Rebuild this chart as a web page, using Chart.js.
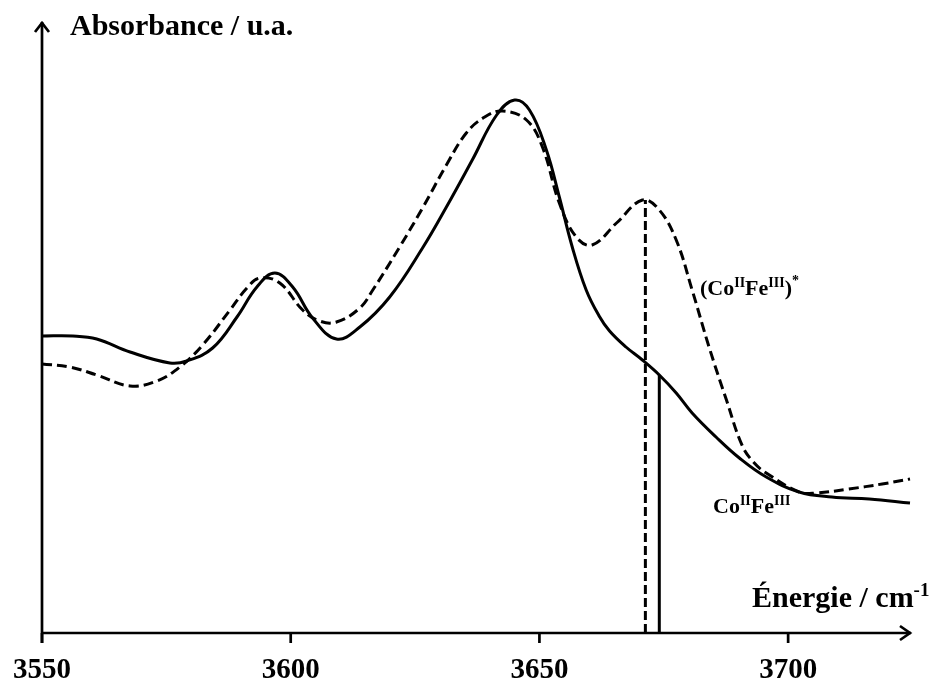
<!DOCTYPE html>
<html><head><meta charset="utf-8">
<script src="https://cdn.jsdelivr.net/npm/chart.js@4"></script>
<style>html,body{margin:0;padding:0;background:#fff}</style>
</head><body>
<canvas id="c" width="933" height="682"></canvas>
<script>
// Energy (cm-1) and absorbance (arbitrary units)
const energySolid = [3550,3556.2,3561.0,3567.7,3575.7,3579.1,3584.3,3589.2,3593.2,3596.8,3600.4,3604.4,3609.2,3613.9,3619.9,3626.5,3631.3,3636.5,3641.4,3645.0,3648.0,3651.4,3654.0,3656.6,3659.4,3662.0,3664.1,3667.4,3670.7,3674.1,3677.5,3680.7,3685.5,3690.2,3695.6,3702.2,3708.8,3716.3,3724.5];
const absSolid    = [2.97,2.97,2.94,2.81,2.70,2.72,2.85,3.16,3.46,3.60,3.46,3.15,2.94,3.06,3.36,3.85,4.26,4.73,5.18,5.33,5.23,4.83,4.36,3.86,3.43,3.17,3.02,2.86,2.73,2.58,2.40,2.20,1.96,1.75,1.56,1.41,1.36,1.34,1.30];
const energyDashed = [3550,3555.6,3561.0,3567.7,3573.1,3577.7,3582.3,3587.8,3591.2,3593.8,3597.8,3602.4,3605.8,3609.2,3613.9,3616.5,3621.9,3626.5,3631.3,3635.3,3639.0,3642.6,3647.4,3650.6,3654.0,3657.4,3660.6,3665.5,3670.7,3674.1,3677.5,3680.7,3684.1,3687.6,3690.8,3693.2,3695.6,3702.2,3705.6,3712.2,3718.9,3724.5];
const absDashed    = [2.69,2.66,2.58,2.47,2.52,2.66,2.88,3.23,3.45,3.55,3.50,3.23,3.12,3.11,3.25,3.43,3.86,4.25,4.68,5.00,5.16,5.22,5.13,4.86,4.30,3.96,3.88,4.10,4.33,4.23,3.93,3.43,2.86,2.33,1.87,1.70,1.60,1.41,1.40,1.44,1.49,1.54];
// Marker lines (peak positions)
const markerDashed = {x: 3671.3, y: 4.33};
const markerSolid  = {x: 3674.1, y: 2.58};
const xTicks = [3550, 3600, 3650, 3700];
const xMin = 3550, xMax = 3724.7, yMin = 0, yMax = 6.11;

const zip = (xs, ys) => xs.map((x, i) => ({x, y: ys[i]}));
const FONT = '"Liberation Serif","Times New Roman",serif';

function drawRuns(ctx, x, y, runs) {
  let cx = x;
  ctx.textAlign = 'left';
  ctx.textBaseline = 'alphabetic';
  for (const r of runs) {
    ctx.font = 'bold ' + r.s + 'px ' + FONT;
    ctx.fillText(r.t, cx, y + (r.dy || 0));
    cx += ctx.measureText(r.t).width;
  }
}

const axesPlugin = {
  id: 'axesPlugin',
  afterDraw(chart) {
    const ctx = chart.ctx;
    const xs = chart.scales.x, ys = chart.scales.y;
    const x0 = xs.getPixelForValue(xMin), x1 = xs.getPixelForValue(xMax);
    const y0 = ys.getPixelForValue(yMin), y1 = ys.getPixelForValue(yMax);
    ctx.save();
    ctx.strokeStyle = '#000';
    ctx.fillStyle = '#000';
    ctx.lineWidth = 2.7;
    ctx.lineCap = 'butt';
    // axes
    ctx.beginPath();
    ctx.moveTo(x0, y0 + 10); ctx.lineTo(x0, y1);
    ctx.moveTo(x0, y0); ctx.lineTo(x1, y0);
    ctx.stroke();
    // arrowheads
    ctx.lineJoin = 'miter';
    ctx.beginPath();
    ctx.moveTo(x0 - 7, y1 + 10); ctx.lineTo(x0, y1 + 1); ctx.lineTo(x0 + 7, y1 + 10);
    ctx.moveTo(x1 - 11, y0 - 7); ctx.lineTo(x1 - 1, y0); ctx.lineTo(x1 - 11, y0 + 7);
    ctx.stroke();
    // ticks and labels
    ctx.font = 'bold 29px ' + FONT;
    ctx.textAlign = 'center';
    ctx.textBaseline = 'alphabetic';
    for (const t of xTicks) {
      const px = xs.getPixelForValue(t);
      ctx.beginPath(); ctx.moveTo(px, y0); ctx.lineTo(px, y0 + 10); ctx.stroke();
      ctx.fillText(String(t), px, 678);
    }
    // axis titles
    drawRuns(ctx, 70, 35, [{t: 'Absorbance / u.a.', s: 30}]);
    drawRuns(ctx, 752, 607, [{t: 'Énergie / cm', s: 30}, {t: '-1', s: 19, dy: -11}]);
    // series labels
    drawRuns(ctx, 700, 295, [{t: '(Co', s: 22}, {t: 'II', s: 14, dy: -8}, {t: 'Fe', s: 22}, {t: 'III', s: 14, dy: -8}, {t: ')', s: 22}, {t: '*', s: 14, dy: -10}]);
    drawRuns(ctx, 713, 513, [{t: 'Co', s: 22}, {t: 'II', s: 14, dy: -8}, {t: 'Fe', s: 22}, {t: 'III', s: 14, dy: -8}]);
    ctx.restore();
  }
};

new Chart(document.getElementById('c'), {
  type: 'line',
  data: {
    datasets: [
      {label: 'CoIIFeIII', data: zip(energySolid, absSolid), borderColor: '#000', borderWidth: 3, pointRadius: 0, tension: 0.4, fill: false},
      {label: '(CoIIFeIII)*', data: zip(energyDashed, absDashed), borderColor: '#000', borderWidth: 3, borderDash: [10, 5], pointRadius: 0, tension: 0.4, fill: false},
      {label: 'pic *', data: [{x: markerDashed.x, y: 0}, {x: markerDashed.x, y: markerDashed.y}], borderColor: '#000', borderWidth: 3, borderDash: [9, 4], pointRadius: 0, tension: 0},
      {label: 'pic', data: [{x: markerSolid.x, y: 0}, {x: markerSolid.x, y: markerSolid.y}], borderColor: '#000', borderWidth: 3, pointRadius: 0, tension: 0}
    ]
  },
  options: {
    responsive: false,
    animation: false,
    devicePixelRatio: 1,
    layout: {padding: {left: 42, right: 22, top: 22, bottom: 49}},
    plugins: {legend: {display: false}, tooltip: {enabled: false}},
    scales: {
      x: {type: 'linear', min: xMin, max: xMax, display: false},
      y: {type: 'linear', min: yMin, max: yMax, display: false}
    }
  },
  plugins: [axesPlugin]
});
</script>
</body></html>
